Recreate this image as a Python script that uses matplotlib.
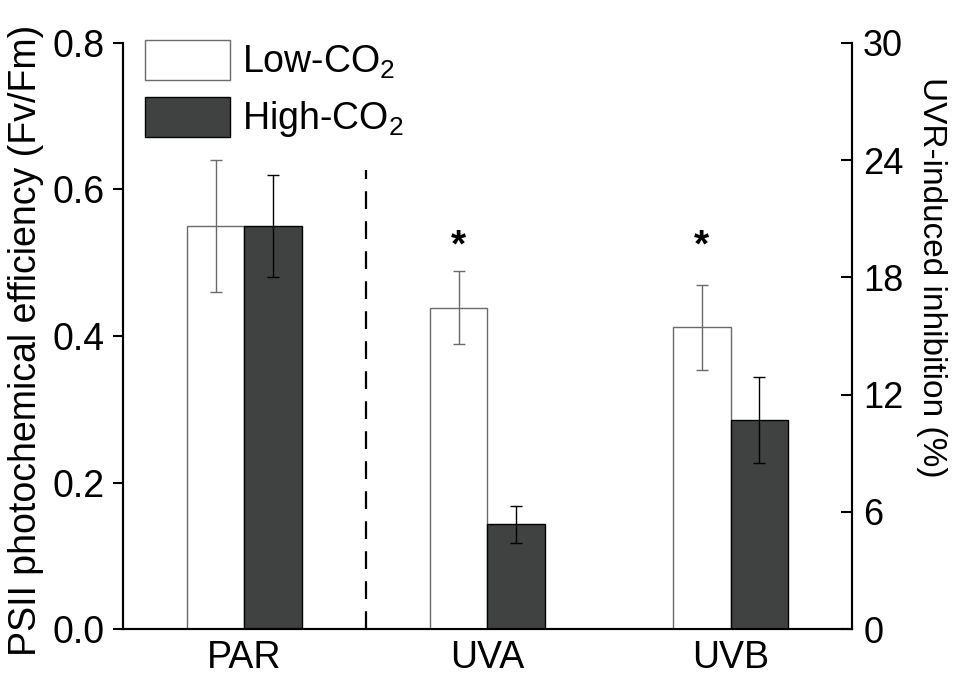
import numpy as np
import matplotlib
matplotlib.use("Agg")
import matplotlib.pyplot as plt

plt.rcParams['font.family'] = ['Liberation Sans', 'DejaVu Sans']
plt.rcParams['mathtext.fontset'] = 'custom'
plt.rcParams['mathtext.rm'] = 'Liberation Sans'
plt.rcParams['mathtext.default'] = 'regular'

# PAR: Fv/Fm (left axis)
par_low, par_high = 0.55, 0.55
par_low_err, par_high_err = 0.09, 0.07

# UVA / UVB: UVR-induced inhibition, % (right axis)
uv_cats = ["UVA", "UVB"]
uv_low = [16.45, 15.45]
uv_low_err = [1.87, 2.17]
uv_high = [5.36, 10.7]
uv_high_err = [0.96, 2.18]

categories = ["PAR", "UVA", "UVB"]
labels = ["Low-CO$_2$", "High-CO$_2$"]

dark = "#404241"
w = 0.237

fig = plt.figure(figsize=(9.57, 6.79), dpi=100)
ax = fig.add_axes([0.1285, 0.0736, 0.7618, 0.8631])
ax2 = ax.twinx()

# PAR bars on the left axis
ax.bar(0 - w/2, par_low, w, color="white", edgecolor="#6a6a6a", lw=1, label=labels[0])
ax.bar(0 + w/2, par_high, w, color=dark, edgecolor="black", lw=1, label=labels[1])
ax.errorbar(0 - w/2, par_low, yerr=par_low_err, fmt="none", ecolor="#6a6a6a", elinewidth=1, capsize=4, capthick=1)
ax.errorbar(0 + w/2, par_high, yerr=par_high_err, fmt="none", ecolor="black", elinewidth=1, capsize=4, capthick=1)

# UV bars on the right axis
x = np.arange(1, 3)
ax2.bar(x - w/2, uv_low, w, color="white", edgecolor="#6a6a6a", lw=1)
ax2.bar(x + w/2, uv_high, w, color=dark, edgecolor="black", lw=1)
ax2.errorbar(x - w/2, uv_low, yerr=uv_low_err, fmt="none", ecolor="#6a6a6a", elinewidth=1, capsize=4, capthick=1)
ax2.errorbar(x + w/2, uv_high, yerr=uv_high_err, fmt="none", ecolor="black", elinewidth=1, capsize=4, capthick=1)
for xi in x:
    ax2.text(xi - w/2, 19.6, "*", ha="center", va="center", fontsize=28, fontweight="bold")

# separator
ax.axvline(0.5, ymin=0, ymax=0.784, color="black", lw=1.6, ls=(0, (8, 5.5)))

ax.set_xlim(-0.5, 2.5)
ax.set_ylim(0, 0.8)
ax2.set_ylim(0, 30)
ax.set_yticks([0, 0.2, 0.4, 0.6, 0.8])
ax.set_yticklabels(["0.0", "0.2", "0.4", "0.6", "0.8"])
ax2.set_yticks([0, 6, 12, 18, 24, 30])
ax.set_xticks([0, 1, 2])
ax.set_xticklabels(categories)

for a in (ax, ax2):
    a.spines["top"].set_visible(False)
    for s in ("left", "right", "bottom"):
        a.spines[s].set_linewidth(1.5)
ax.tick_params(axis="x", length=0, labelsize=27, pad=8)
ax.tick_params(axis="y", direction="out", length=7, width=1.5, labelsize=27, pad=6)
ax2.tick_params(axis="y", direction="in", length=8, width=1.5, labelsize=26, pad=8)

ax.set_ylabel("PSII photochemical efficiency (Fv/Fm)", fontsize=27)
ax.yaxis.set_label_coords(-0.108, 0.493)
ax2.set_ylabel("UVR-induced inhibition (%)", fontsize=24, rotation=-90)
ax2.yaxis.set_label_coords(1.13, 0.60)

leg = ax.legend(loc="upper left", bbox_to_anchor=(0.01, 1.03), frameon=False,
                fontsize=27, handlelength=2.27, handleheight=1.25,
                handletextpad=0.3, labelspacing=0.42, borderaxespad=0)

fig.savefig("out.png", dpi=100)
